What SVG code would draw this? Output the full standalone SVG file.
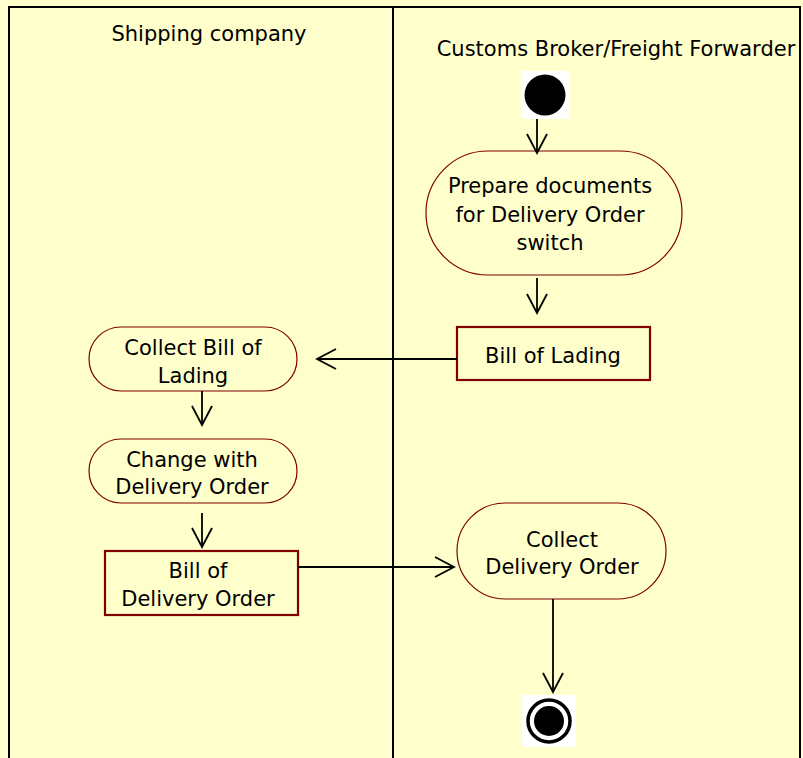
<svg xmlns="http://www.w3.org/2000/svg" width="803" height="758" viewBox="0 0 803 758">
<style>
  .lane { fill: none; stroke: #000; stroke-width: 2; }
  .act { fill: #FFFFCC; stroke: #800000; stroke-width: 1.2; }
  .obj { fill: #FFFFCC; stroke: #800000; stroke-width: 2.2; }
  .t { font-family: "DejaVu Sans", Tahoma, Verdana, sans-serif; font-size: 21px; fill: #000; text-anchor: middle; }
  .h { font-family: "DejaVu Sans", Tahoma, Verdana, sans-serif; font-size: 21px; fill: #000; text-anchor: middle; }
  .c { fill: none; stroke: #000; stroke-width: 1.8; }
</style>
<defs>
  <marker id="arr" markerUnits="userSpaceOnUse" markerWidth="22" markerHeight="22" viewBox="0 0 22 22" refX="20" refY="11" orient="auto">
    <path d="M1,1 L20,11 L1,21" fill="none" stroke="#000" stroke-width="1.8"/>
  </marker>
</defs>
<rect width="803" height="758" fill="#FFFFCC"/>
<g id="lanes">
  <path class="lane" d="M9,760 V7 H800 V760 M393,7 V760"/>
  <text class="h" x="209" y="41">Shipping company</text>
  <text class="h" x="616" y="56">Customs Broker/Freight Forwarder</text>
</g>
<g id="start">
  <rect x="521" y="71" width="49" height="48" fill="#fff"/>
  <circle cx="545" cy="95" r="20.5" fill="#000"/>
</g>
<g id="prepare">
  <rect class="act" x="426" y="151" width="256" height="124" rx="62" ry="62"/>
  <text class="t" x="550" y="193">Prepare documents</text>
  <text class="t" x="550" y="222">for Delivery Order</text>
  <text class="t" x="550" y="250">switch</text>
</g>
<g id="bill-lading">
  <rect class="obj" x="457" y="327" width="193" height="53"/>
  <text class="t" x="553" y="363">Bill of Lading</text>
</g>
<g id="collect-bill">
  <rect class="act" x="89" y="327" width="208" height="64" rx="32" ry="32"/>
  <text class="t" x="193" y="355">Collect Bill of</text>
  <text class="t" x="193" y="383">Lading</text>
</g>
<g id="change">
  <rect class="act" x="89" y="439" width="208" height="64" rx="32" ry="32"/>
  <text class="t" x="192" y="467">Change with</text>
  <text class="t" x="192" y="494">Delivery Order</text>
</g>
<g id="bill-do">
  <rect class="obj" x="105" y="551" width="193" height="64"/>
  <text class="t" x="198" y="578">Bill of</text>
  <text class="t" x="198" y="606">Delivery Order</text>
</g>
<g id="collect-do">
  <rect class="act" x="457" y="503" width="209" height="96" rx="48" ry="48"/>
  <text class="t" x="562" y="547">Collect</text>
  <text class="t" x="562" y="574">Delivery Order</text>
</g>
<g id="end">
  <rect x="522" y="695" width="54" height="52" fill="#fff"/>
  <circle cx="549" cy="721" r="21" fill="none" stroke="#000" stroke-width="3.5"/>
  <circle cx="549" cy="721" r="15" fill="#000"/>
</g>
<g id="connectors">
  <path class="c" d="M537,119 V153" marker-end="url(#arr)"/>
  <path class="c" d="M537,278 V313" marker-end="url(#arr)"/>
  <path class="c" d="M457,359 H317" marker-end="url(#arr)"/>
  <path class="c" d="M202,391 V425" marker-end="url(#arr)"/>
  <path class="c" d="M202,513 V547" marker-end="url(#arr)"/>
  <path class="c" d="M298,567 H454" marker-end="url(#arr)"/>
  <path class="c" d="M553,599 V692" marker-end="url(#arr)"/>
</g>
</svg>
